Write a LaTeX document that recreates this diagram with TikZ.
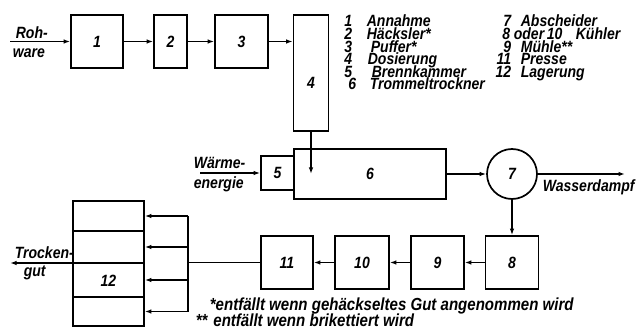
\documentclass[tikz,border=0pt]{standalone}
\usepackage{fontspec}
\setmainfont{Liberation Sans}[FakeStretch=0.86]
\usetikzlibrary{arrows.meta}
\begin{document}
\begin{tikzpicture}[x=1pt,y=-1pt, line width=1.7pt,
  every node/.style={font=\fontsize{16.3}{16}\selectfont\bfseries\itshape},
  box/.style={draw, rectangle, inner sep=0pt},
  arr/.style={-{Latex[length=6.5pt,width=4.5pt]}},
  lbl/.style={inner sep=0pt, anchor=west},
  foot/.style={inner sep=0pt, anchor=base west, font=\fontsize{17.5}{17}\selectfont\bfseries\itshape},
  num/.style={inner sep=0pt, anchor=base east, text height=9pt, text depth=2.5pt},
  txt/.style={inner sep=0pt, anchor=base west, text height=9pt, text depth=2.5pt}]
\useasboundingbox (0,0) rectangle (637,331);

% boxes
\node[box, minimum width=52pt, minimum height=53pt] (b1) at (97,41.5) {1};
\node[box, minimum width=33pt, minimum height=53pt] (b2) at (170.5,41.5) {2};
\node[box, minimum width=53pt, minimum height=53pt] (b3) at (241.5,41.5) {3};
\node[box, minimum width=35pt, minimum height=116pt] (b4) at (311,73) {};
\node (l4) at (311,83) {4};
\node[box, minimum width=152pt, minimum height=50pt] (b6) at (370,174) {6};
\node[box, minimum width=33pt, minimum height=34pt] (b5) at (277.5,173) {5};
\node[draw, circle, inner sep=0pt, minimum size=50pt] (c7) at (512,174) {7};
\node[box, minimum width=53pt, minimum height=53pt] (b8) at (512,262.5) {8};
\node[box, minimum width=53pt, minimum height=53pt] (b9) at (437.5,262.5) {9};
\node[box, minimum width=54pt, minimum height=53pt] (b10) at (362,262.5) {10};
\node[box, minimum width=52pt, minimum height=53pt] (b11) at (287,262.5) {11};
\node[box, minimum width=71pt, minimum height=125pt] (b12) at (108.5,263.5) {};
\node (l12) at (108.5,281) {12};
\draw (b12.west |- 0,231) -- (b12.east |- 0,231);
\draw (b12.west |- 0,263) -- (b12.east |- 0,263);
\draw (b12.west |- 0,297) -- (b12.east |- 0,297);

% connectors
\coordinate (in1) at (10,41.5);
\draw[arr] (in1) -- (b1);
\draw[arr] (b1) -- (b2);
\draw[arr] (b2) -- (b3);
\draw[arr] (b3.east) -- (b3.east -| b4.west);
\coordinate (d6) at (b4.south |- b6.center);
\draw[arr] (b4.south) -- (d6);
\coordinate (w0) at (200,173);
\draw[arr] (w0) -- (b5);
\draw[arr] (b6) -- (c7);
\coordinate (wd) at (625,174);
\draw[arr] (c7) -- (wd);
\draw[arr] (c7) -- (b8);
\draw[arr] (b8) -- (b9);
\draw[arr] (b9) -- (b10);
\draw[arr] (b10) -- (b11);
\coordinate (bus) at (188,262.5);
\draw (b11) -- (bus);
\coordinate (ba) at (188,216);
\coordinate (bb) at (188,247);
\coordinate (bc) at (188,280);
\coordinate (bd) at (188,311.5);
\draw (ba) -- (bd);
\draw[arr] (ba) -- (ba -| b12.east);
\draw[arr] (bb) -- (bb -| b12.east);
\draw[arr] (bc) -- (bc -| b12.east);
\draw[arr] (bd) -- (bd -| b12.east);
\coordinate (out) at (10,263);
\draw[arr] (b12.west |- out) -- (out);

% labels
\node[lbl] (roh) at (15,33) {Roh-};
\node[lbl] (ware) at (12,53) {ware};
\node[lbl] (waerme) at (193,163) {Wärme-};
\node[lbl] (energie) at (193,184) {energie};
\node[lbl] (trock) at (14,253) {Trocken-};
\node[lbl] (gut) at (23,273) {gut};
\node[lbl] (wdtext) at (542,187) {Wasserdampf};
\node[foot] (fn1) at (209,310) {*entfällt wenn gehäckseltes Gut angenommen wird};
\node[foot] (fn2) at (195,326) {**\,\,entfällt wenn brikettiert wird};

% legend column 1
\node[num] (n1) at (353,27) {1};   \node[txt] (t1) at (366,27) {Annahme};
\node[num] (n2) at (353,39.6) {2}; \node[txt] (t2) at (366,39.6) {Häcksler*};
\node[num] (n3) at (353,52.2) {3}; \node[txt] (t3) at (370,52.2) {Puffer*};
\node[num] (n4) at (353,64.8) {4}; \node[txt] (t4) at (367,64.8) {Dosierung};
\node[num] (n5) at (353,77.4) {5}; \node[txt] (t5) at (371,77.4) {Brennkammer};
\node[num] (n6) at (357,90) {6};   \node[txt] (t6) at (369,90) {Trommeltrockner};
% legend column 2
\node[num] (n7) at (512,27) {7};    \node[txt] (t7) at (520,27) {Abscheider};
\node[num] (n8) at (511,39.6) {8};  \node[txt] (t8) at (513,39.6) {oder\,10};
\node[txt] (t8b) at (575,39.6) {Kühler};
\node[num] (n9) at (512,52.2) {9};  \node[txt] (t9) at (520,52.2) {Mühle**};
\node[num] (n11) at (512,64.8) {11}; \node[txt] (t11) at (520,64.8) {Presse};
\node[num] (n12) at (512,77.4) {12}; \node[txt] (t12) at (520,77.4) {Lagerung};
\end{tikzpicture}
\end{document}
